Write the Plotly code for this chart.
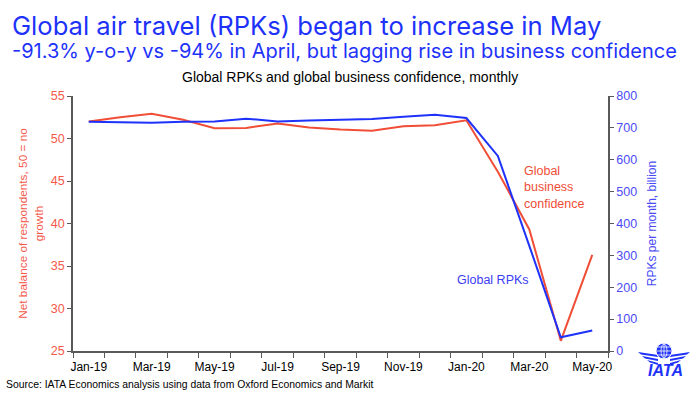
import plotly.graph_objects as go

months = ["Jan-19", "Feb-19", "Mar-19", "Apr-19", "May-19", "Jun-19", "Jul-19", "Aug-19",
          "Sep-19", "Oct-19", "Nov-19", "Dec-19", "Jan-20", "Feb-20", "Mar-20", "Apr-20", "May-20"]
confidence = [52.0, 52.5, 52.9, 52.2, 51.2, 51.25, 51.75, 51.3,
              51.05, 50.9, 51.45, 51.55, 52.15, 46.1, 39.3, 26.2, 36.3]
rpks = [719, 718, 716, 719, 720, 729, 720, 723,
        726, 728, 735, 741, 731, 612, 330, 43, 64]

RED = "#F04E37"
BLUE = "#1E32FA"
FONT = "Liberation Sans"
TITLE_FONT = "Inter"

W, H = 695, 396
L, R, T, B = 73, 87, 96, 45
PW, PH = W - L - R, H - T - B

x = list(range(len(months)))

fig = go.Figure()
fig.add_trace(go.Scatter(x=x, y=confidence, mode="lines", line=dict(color=RED, width=2),
                         name="Global business confidence", yaxis="y"))
fig.add_trace(go.Scatter(x=x, y=rpks, mode="lines", line=dict(color=BLUE, width=2),
                         name="Global RPKs", yaxis="y2"))

fig.update_layout(
    width=W, height=H, autosize=False,
    margin=dict(l=L, r=R, t=T, b=B),
    paper_bgcolor="white", plot_bgcolor="white",
    showlegend=False,
    font=dict(family=FONT, size=12, color="#000000"),
    xaxis=dict(
        range=[-0.5, len(months) - 0.5],
        tickvals=x[::2], ticktext=months[::2],
        ticks="", showgrid=False, zeroline=False,
        showline=True, linecolor="#595959", linewidth=1.5,
        tickfont=dict(size=12, color="#000000"), ticklabelstandoff=4,
        minor=dict(tickvals=[i - 0.5 for i in range(len(months) + 1)],
                   ticks="outside", ticklen=5, tickcolor="#595959", tickwidth=1),
    ),
    yaxis=dict(
        range=[25, 55], dtick=5, showgrid=False, zeroline=False,
        showline=True, linecolor="#595959", linewidth=1.5,
        ticks="outside", ticklen=4, tickcolor="#595959",
        tickfont=dict(size=12.5, color="#F5594A"),
        title=dict(text="Net balance of respondents, 50 = no<br>growth",
                   font=dict(size=11.8, color="#F5594A"), standoff=5),
    ),
    yaxis2=dict(
        range=[0, 800], dtick=100, overlaying="y", side="right",
        showgrid=False, zeroline=False,
        showline=True, linecolor="#595959", linewidth=1.5,
        ticks="outside", ticklen=4, tickcolor="#595959",
        tickfont=dict(size=12.5, color="#4A4AF5"),
        title=dict(text="RPKs per month, billion",
                   font=dict(size=12, color="#4A4AF5"), standoff=11),
    ),
)


def px(xp, yp):
    return (xp - L) / PW, (H - B - yp) / PH


def note(text, xp, yp, font, xanchor="left", align="left"):
    ax, ay = px(xp, yp)
    fig.add_annotation(text=text, x=ax, y=ay, xref="paper", yref="paper",
                       xanchor=xanchor, yanchor="middle", align=align,
                       showarrow=False, font=font)


note("Global air travel (RPKs) began to increase in May",
     10, 25, dict(size=25.6, color=BLUE, family=TITLE_FONT))
note("-91.3% y-o-y vs -94% in April, but lagging rise in business confidence",
     10, 51, dict(size=20, color=BLUE, family=TITLE_FONT))
note("Global RPKs and global business confidence, monthly", 350, 77,
     dict(size=14, color="#000000", family=FONT), xanchor="center")
note("Global<br>business<br>confidence", 522, 187, dict(size=12.5, color=RED, family=FONT))
note("Global RPKs", 455, 280, dict(size=12.5, color="#3C3CF5", family=FONT))
note("Source: IATA Economics analysis using data from Oxford Economics and Markit", 4, 384,
     dict(size=10.4, color="#000000", family=FONT))

# IATA logo approximation
note("<b><i>IATA</i></b>", 665, 370, dict(size=16, color=BLUE, family=FONT), xanchor="center")


def path(points, closed=True):
    s = "M " + " L ".join("{:.5f} {:.5f}".format(*px(a, b)) for a, b in points)
    return s + (" Z" if closed else "")


# wings
for side in (-1, 1):
    for k, (y0, length) in enumerate([(353, 26), (357, 22), (361, 17)]):
        fig.add_shape(type="path", xref="paper", yref="paper",
                      path=path([(664 + side * 6, y0 + 2), (664 + side * length, y0 - 1),
                                 (664 + side * (length - 3), y0 + 1.5), (664 + side * 6, y0 + 4)]),
                      fillcolor=BLUE, line=dict(width=0))
# globe
fig.add_shape(type="circle", xref="paper", yref="paper",
              x0=px(656, 0)[0], x1=px(672, 0)[0], y0=px(0, 359)[1], y1=px(0, 343)[1],
              line=dict(color="white", width=1), fillcolor=BLUE)
for yy in (347, 351, 355):
    fig.add_shape(type="line", xref="paper", yref="paper",
                  x0=px(657, 0)[0], x1=px(671, 0)[0], y0=px(0, yy)[1], y1=px(0, yy)[1],
                  line=dict(color="white", width=0.8))
fig.add_shape(type="circle", xref="paper", yref="paper",
              x0=px(661, 0)[0], x1=px(667, 0)[0], y0=px(0, 358)[1], y1=px(0, 344)[1],
              line=dict(color="white", width=0.8))
fig.add_shape(type="line", xref="paper", yref="paper",
              x0=px(664, 0)[0], x1=px(664, 0)[0], y0=px(0, 343)[1], y1=px(0, 359)[1],
              line=dict(color="white", width=0.8))

post = "document.body.style.margin='0';document.body.style.overflow='hidden';"
fig.write_html("out.html", config={"displayModeBar": False}, post_script=post)
